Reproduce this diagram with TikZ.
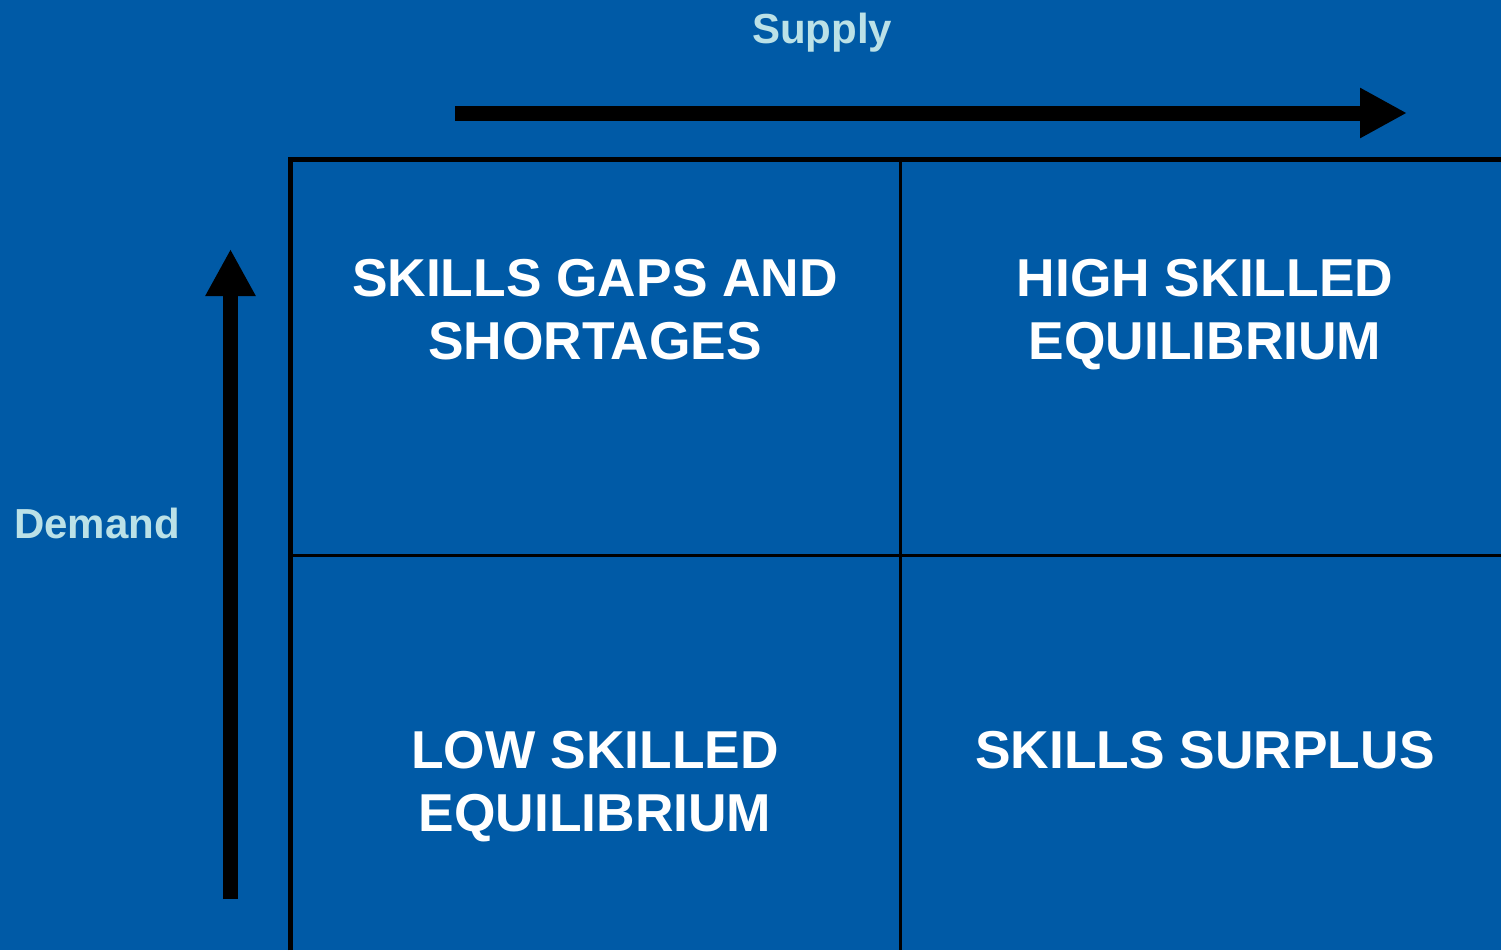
\documentclass[tikz,border=0pt]{standalone}
\usepackage{fontspec}
\setmainfont{Liberation Sans}
\usetikzlibrary{arrows.meta}

\definecolor{bgblue}{RGB}{0,90,166}
\definecolor{axislabel}{RGB}{187,225,231}

\tikzset{
  cell text/.style={font=\bfseries\fontsize{40}{47.25}\selectfont, text=white, align=center, anchor=base},
  axis text/.style={font=\bfseries\fontsize{31.5}{36}\selectfont, text=axislabel, anchor=base},
  axis arrow/.style={line width=11.25pt, -{Triangle[length=35.25pt,width=35.25pt]}},
}

\begin{document}
\begin{tikzpicture}[x=0.75pt,y=0.75pt,yscale=-1,xscale=1]
%set diagram size
\useasboundingbox (0,0) rectangle (1501,950);
\fill [bgblue] (0,0) rectangle (1501,950);

%Grid: outer lines
\draw [line width=3.75pt, line join=miter] (290,950) -- (290,159) -- (1501,159) ;
%Grid: inner lines
\draw [line width=2.25pt] (900,159) -- (900,950) ;
\draw [line width=2.25pt] (290,555) -- (1501,555) ;

%Arrows
\coordinate (supply start) at (455,113);
\coordinate (supply end) at (1407,113);
\coordinate (demand start) at (230.5,899);
\coordinate (demand end) at (230.5,249);
\draw [axis arrow] (supply start) -- (supply end) ;
\draw [axis arrow] (demand start) -- (demand end) ;

% Text Node
\node [axis text] (supply) at (822,43) {Supply};
% Text Node
\node [axis text] (demand) at (97,538) {Demand};
% Text Node (base = last line)
\node [cell text] (gaps) at (595,359) {SKILLS GAPS AND\\SHORTAGES};
% Text Node
\node [cell text] (high) at (1205,359) {HIGH SKILLED\\EQUILIBRIUM};
% Text Node
\node [cell text] (low) at (595,831) {LOW SKILLED\\EQUILIBRIUM};
% Text Node
\node [cell text] (surplus) at (1205,768) {SKILLS SURPLUS};

\end{tikzpicture}
\end{document}
